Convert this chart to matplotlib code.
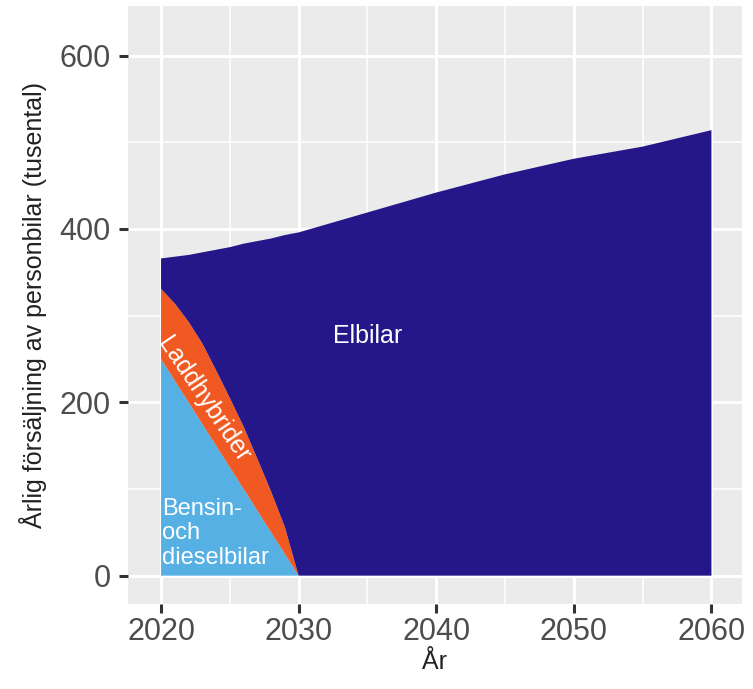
import matplotlib.pyplot as plt
import numpy as np

# årlig försäljning (tusental) per drivmedel
years = [2020, 2021, 2022, 2023, 2024, 2025, 2026, 2027, 2028, 2029, 2030,
         2035, 2040, 2045, 2050, 2055, 2060]
bensin_diesel = [250, 225, 200, 175, 150, 125, 100, 75, 50, 25, 0,
                 0, 0, 0, 0, 0, 0]
laddhybrider = [81, 89, 93, 93, 87, 80, 72, 60, 47, 31, 0,
                0, 0, 0, 0, 0, 0]
elbilar = [35, 54, 77, 105, 139, 174, 211, 251, 292, 337, 396,
           419, 442, 463, 481, 495, 514]

x_ticks = [2020, 2030, 2040, 2050, 2060]
y_ticks = [0, 200, 400, 600]

plt.rcParams['font.family'] = ['Liberation Sans', 'DejaVu Sans']

fig = plt.figure(figsize=(7.53, 6.89), dpi=100)
ax = fig.add_axes([0.17, 0.123, 0.815, 0.868])
ax.set_facecolor('#EBEBEB')

ax.stackplot(years, bensin_diesel, laddhybrider, elbilar,
             colors=['#56B0E3', '#F05A22', '#25168A'], linewidth=0, zorder=3)

ax.set_xlim(2017.6, 2062.2)
ax.set_ylim(-33, 657)
ax.set_xticks(x_ticks)
ax.set_yticks(y_ticks)
ax.set_xticks([2025, 2035, 2045, 2055], minor=True)
ax.set_yticks([100, 300, 500], minor=True)
ax.grid(True, which='major', color='white', linewidth=2.2, zorder=1)
ax.grid(True, which='minor', color='white', linewidth=1.1, zorder=1)
ax.set_axisbelow(True)
for s in ax.spines.values():
    s.set_visible(False)

ax.tick_params(which='major', length=6.5, width=2.2, color='#333333',
               labelsize=22, labelcolor='#4D4D4D', pad=6)
ax.tick_params(axis='x', which='major', pad=3)
ax.tick_params(which='minor', length=0)

ax.set_xlabel('År', fontsize=18, color='#222222', labelpad=2)
ax.set_ylabel('Årlig försäljning av personbilar (tusental)', fontsize=18,
              color='#222222', labelpad=9)

ax.text(2035, 277, 'Elbilar', color='white', fontsize=18, ha='center',
        va='center', zorder=5)
ax.text(2023.1, 203, 'Laddhybrider', color='white', fontsize=18,
        ha='center', va='center', rotation=-56, zorder=5)
ax.text(2020.1, 8, 'Bensin-\noch\ndieselbilar', color='white', fontsize=17,
        ha='left', va='bottom', linespacing=1.15, zorder=5)

fig.savefig('out.png', dpi=100)
